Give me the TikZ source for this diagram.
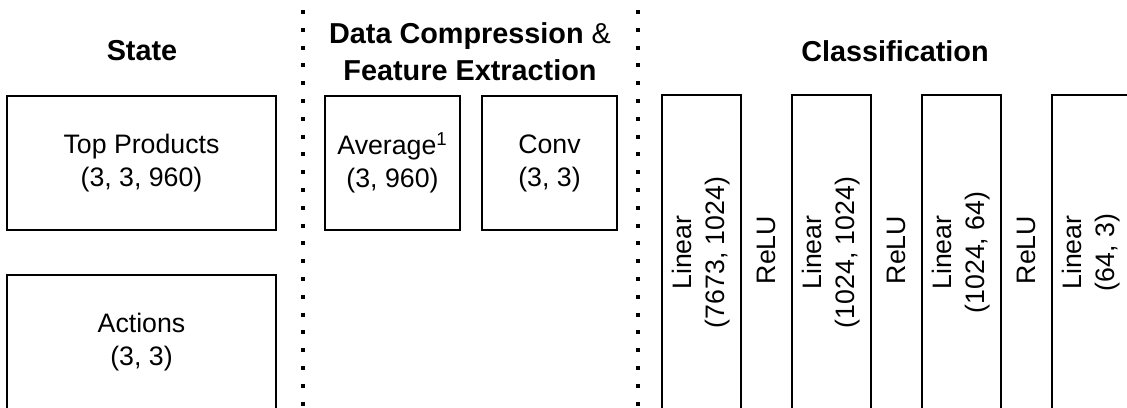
\documentclass[tikz,border=0pt]{standalone}
\usepackage{fontspec}
\setmainfont{Liberation Sans}
\usetikzlibrary{positioning}
\tikzset{every node/.append style={align=center}}

\begin{document}
\begin{tikzpicture}[
  block/.style={rectangle, draw, line width=1.4pt, inner sep=0pt,
                font=\fontsize{19}{23.5}\selectfont},
  layer/.style={block, rotate=90, minimum width=7.875cm,
                minimum height=1.975cm},
  title/.style={font=\fontsize{20.5}{26.3}\selectfont},
  sep/.style={line width=0.1cm, dash pattern=on 0.1cm off 0.345cm}
]

% Frame (boxes run off the bottom edge)
\useasboundingbox (0,0) rectangle (28.175,-10.175);
\clip (0,0) rectangle (28.175,-10.175);

% Section titles
\node[title] (tstate) at (3.55,-1.275) {\textbf{State}};
\node[title] (tfeat) at (11.75,-1.29)
      {\textbf{Data Compression} \&\\ \textbf{Feature Extraction}};
\node[title] (tclass) at (22.375,-1.275) {\textbf{Classification}};

% State inputs
\node[block, minimum width=6.725cm, minimum height=3.35cm]
      (top) at (3.5375,-4.075) {Top Products\\ (3, 3, 960)};
\node[block, minimum width=6.725cm, minimum height=3.35cm]
      (act) at (3.5375,-8.55) {Actions\\ (3, 3)};

% Compression / feature extraction
\node[block, minimum width=3.375cm, minimum height=3.35cm]
      (avg) at (9.8125,-4.075) {Average\textsuperscript{1}\\ (3, 960)};
\node[block, minimum width=3.375cm, minimum height=3.35cm]
      (conv) at (13.7375,-4.075) {Conv\\ (3, 3)};

% Classifier layers
\foreach \n/\x/\t in {l1/17.5375/{(7673, 1024)}, l2/20.7875/{(1024, 1024)},
                      l3/24.0375/{(1024, 64)}, l4/27.2875/{(64, 3)}}
  \node[layer] (\n) at (\x,-6.3125) {Linear\\ \t};

\foreach \n/\x in {r1/19.1625, r2/22.4125, r3/25.6625}
  \node[block, draw=none, rotate=90] (\n) at (\x,-6.25) {ReLU};

% Dotted separators
\coordinate (s1a) at (7.575,-0.25);
\coordinate (s1b) at (7.575,-10.5);
\coordinate (s2a) at (15.95,-0.25);
\coordinate (s2b) at (15.95,-10.5);
\draw[sep] (s1a) -- (s1b);
\draw[sep] (s2a) -- (s2b);

\end{tikzpicture}
\end{document}
